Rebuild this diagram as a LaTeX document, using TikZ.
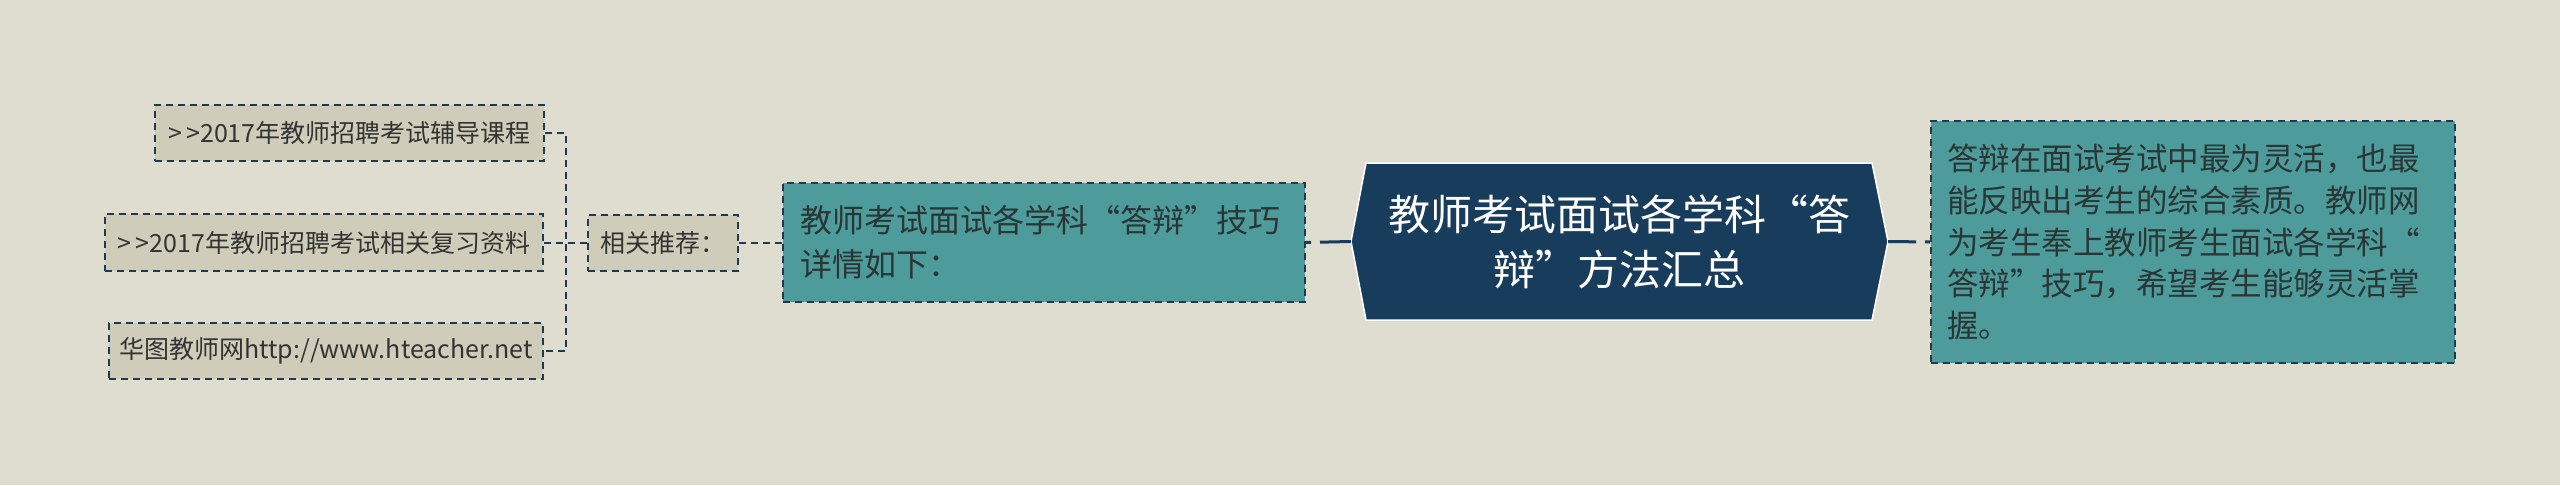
\documentclass[tikz,border=0pt]{standalone}
\usepackage{fontspec}
\setmainfont{Noto Sans CJK SC}
\definecolor{bgc}{HTML}{DEDDCF}
\definecolor{leftfill}{HTML}{CFCDBA}
\definecolor{tealfill}{HTML}{4D9C9B}
\definecolor{navy}{HTML}{173C5C}
\definecolor{edge}{HTML}{1F3A4E}
\definecolor{txt}{HTML}{333333}
\definecolor{ttxt}{HTML}{2A3535}
\tikzset{
  dashbox/.style={draw=edge, line width=2pt, dash pattern=on 7pt off 5pt, inner sep=0pt},
  leftbox/.style={dashbox, fill=leftfill, text=txt, font=\fontsize{25}{30}\selectfont},
  tealbox/.style={dashbox, fill=tealfill, text=ttxt, align=left, anchor=center},
  conn/.style={draw=edge, line width=2pt, dash pattern=on 7pt off 5pt},
  solidconn/.style={draw=navy, line width=3pt, dash pattern=on 5pt off 9pt on 200pt off 0pt},
  hexshape/.style={fill=navy, draw=white, line width=1.5pt},
  hextext/.style={text=white, align=center, font=\fontsize{42}{55}\selectfont}
}
\newcommand{\gtgt}{\symbol{62}\hspace{4pt}\symbol{62}}
\begin{document}
\begin{tikzpicture}[x=1pt,y=1pt]
\fill[bgc] (0,0) rectangle (2560,-485);
\useasboundingbox (0,0) rectangle (2560,-485);

\node[leftbox, minimum width=389pt, minimum height=56pt] (b1) at (349.5,-133) {\gtgt 2017年教师招聘考试辅导课程};
\node[leftbox, minimum width=438pt, minimum height=57pt] (b2) at (324,-242.5) {\gtgt 2017年教师招聘考试相关复习资料};
\node[leftbox, minimum width=434pt, minimum height=56pt] (b3) at (326,-351) {华图教师网http://www.hteacher.net};
\node[leftbox, minimum width=150pt, minimum height=56pt] (rec) at (663,-242.5) {相关推荐：};

\node[tealbox, minimum width=522pt, minimum height=119pt, text width=488pt, inner xsep=17pt,
  font=\fontsize{32}{44}\selectfont] (teal) at (1044,-242.5)
  {教师考试面试各学科“答辩”技巧\\详情如下：};

\coordinate (hexW) at (1351,-241.5);
\coordinate (hexE) at (1888,-241.5);
\path[hexshape] (hexW) -- (1366,-163) -- (1872,-163) -- (hexE) -- (1872,-320) -- (1366,-320) -- cycle;
\node[hextext] (hex) at (1619,-241.5) {教师考试面试各学科“答\\辩”方法汇总};

\node[tealbox, minimum width=524pt, minimum height=242pt, text width=492pt, inner xsep=16pt,
  font=\fontsize{31.5}{41.7}\selectfont] (right) at (2193,-242)
  {答辩在面试考试中最为灵活，也最\\能反映出考生的综合素质。教师网\\为考生奉上教师考生面试各学科“\\答辩”技巧，希望考生能够灵活掌\\握。};

\coordinate (spine) at (566,-242.5);
\draw[conn] (b1.east) -| (spine) |- (b3.east);
\draw[conn] (b2.east) -- (rec.west);
\draw[conn] (rec.east) -- (teal.west);
\draw[solidconn] (teal.east) -- (hexW);
\draw[solidconn] (right.west) -- (hexE);
\end{tikzpicture}
\end{document}
